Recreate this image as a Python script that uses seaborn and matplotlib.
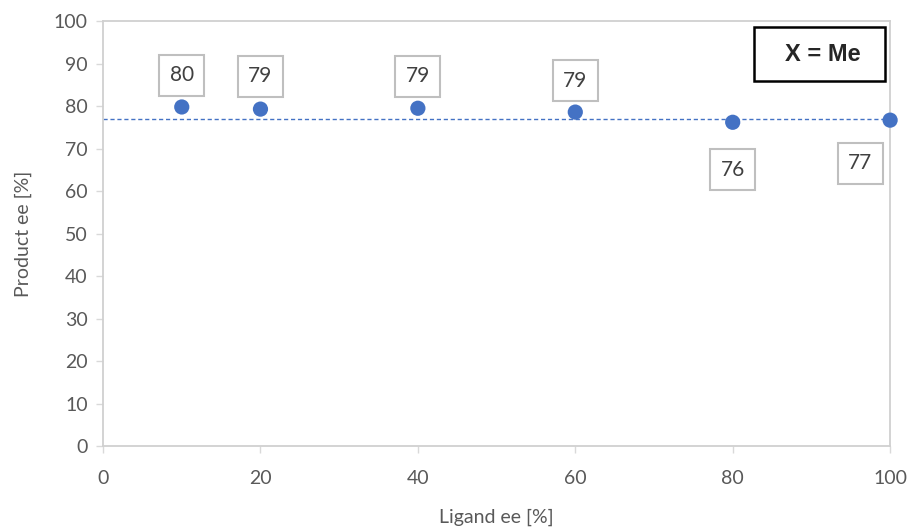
import matplotlib
matplotlib.use('Agg')
import matplotlib.pyplot as plt
import seaborn as sns
import pandas as pd
from matplotlib.patches import Rectangle

sns.set_style('white')
plt.rcParams['font.family'] = ['Lato', 'DejaVu Sans']

# data
ligand_ee = [10, 20, 40, 60, 80, 100]
product_ee = [79.8, 79.3, 79.5, 78.6, 76.2, 76.7]
labels = ['80', '79', '79', '79', '76', '77']
mean_line = 77.0
# label box centres (x, y) in data units
label_x = [10, 20, 40, 60, 80, 96.2]
label_y = [87.3, 87.0, 87.0, 86.0, 65.0, 66.6]

df = pd.DataFrame({'ligand': ligand_ee, 'product': product_ee})

fig = plt.figure(figsize=(9.12, 5.28), dpi=100)
ax = fig.add_axes([0.113, 0.155, 0.863, 0.805])

blue = '#4472C4'
grey = '#BFBFBF'

ax.axhline(mean_line, color=blue, lw=1, ls=(0, (3, 2)), zorder=1)
sns.scatterplot(data=df, x='ligand', y='product', ax=ax, color=blue,
                s=120, edgecolor='none', zorder=3, clip_on=False)

for lx, ly, t in zip(label_x, label_y, labels):
    ax.text(lx, ly, t, ha='center', va='center', fontsize=15, color='#404040',
            bbox=dict(boxstyle='square,pad=0.5', fc='white', ec=grey, lw=1.5))

# "X = Me" box
ax.add_patch(Rectangle((0.827, 0.859), 0.167, 0.127, transform=ax.transAxes,
                       fc='white', ec='black', lw=1.8, zorder=4))
ax.text(0.914, 0.922, 'X = Me', transform=ax.transAxes, ha='center', va='center',
        fontsize=17, fontweight='bold', family=['Liberation Sans', 'DejaVu Sans'],
        zorder=5)

ax.set_xlim(0, 100)
ax.set_ylim(0, 100)
ax.set_xticks(range(0, 101, 20))
ax.set_yticks(range(0, 101, 10))
ax.tick_params(axis='both', direction='out', length=5, width=1, color='#D9D9D9',
               labelsize=14, labelcolor='#595959', left=True, bottom=True)
ax.tick_params(axis='x', pad=12)
ax.tick_params(axis='y', pad=6)
for sp in ax.spines.values():
    sp.set_color('#D0D0D0')
    sp.set_linewidth(1.3)

ax.set_xlabel('Ligand ee [%]', fontsize=14, color='#595959', labelpad=16)
ax.set_ylabel('Product ee [%]', fontsize=14, color='#595959', labelpad=16)

fig.savefig('out.png', dpi=100)
